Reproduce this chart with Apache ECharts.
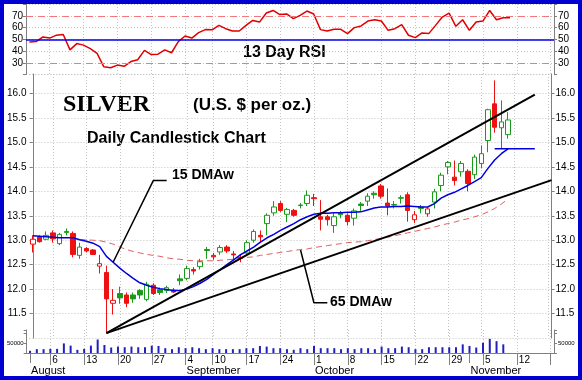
<!DOCTYPE html>
<html><head><meta charset="utf-8">
<script src="https://cdn.jsdelivr.net/npm/echarts@6/dist/echarts.min.js"></script>
<style>
html,body{margin:0;padding:0;background:#0000d0;}
#c{position:absolute;left:4px;top:4px;width:574px;height:372px;background:#fff;}
</style></head><body><div id="c"></div>
<script>
// Trading days (MM-DD), Aug 1 .. Nov 19
const dates = ['08-01','08-02','08-03','08-06','08-07','08-08','08-09','08-10','08-13','08-14','08-15','08-16','08-17','08-20','08-21','08-22','08-23','08-24','08-27','08-28','08-29','08-30','08-31',
'09-04','09-05','09-06','09-07','09-10','09-11','09-12','09-13','09-14','09-17','09-18','09-19','09-20','09-21','09-24','09-25','09-26','09-27','09-28',
'10-01','10-02','10-03','10-04','10-05','10-08','10-09','10-10','10-11','10-12','10-15','10-16','10-17','10-18','10-19','10-22','10-23','10-24','10-25','10-26','10-29','10-30','10-31',
'11-01','11-02','11-05','11-06','11-07','11-08','11-09','11-12','11-13','11-14','11-15','11-16','11-19'];
const weekStarts = ['08-06','08-13','08-20','08-27','09-04','09-10','09-17','09-24','10-01','10-08','10-15','10-22','10-29','11-05','11-12','11-19'];
const hiddenDayLabels = ['11-19'];
const monthStarts = ['08-01','09-04','10-01','11-01'];
const monthNames = ['August','September','October','November'];
// open, close, low, high
const ohlc = [
[12.92,13.02,12.75,13.10],[13.07,12.97,12.95,13.10],[13.02,13.10,13.00,13.18],[13.15,13.03,12.95,13.20],[12.93,13.12,12.90,13.15],
[13.18,13.16,13.10,13.24],[13.14,12.71,12.65,13.18],[12.69,12.86,12.62,12.95],[12.83,12.78,12.75,12.86],[12.80,12.71,12.70,12.82],
[12.47,12.52,12.32,12.70],[12.34,11.80,11.10,12.48],[11.71,11.77,11.48,12.00],[11.91,11.82,11.70,12.05],[11.88,11.71,11.63,11.93],
[11.88,11.80,11.72,11.93],[11.97,11.88,11.80,12.00],[11.79,12.10,11.75,12.15],[12.08,11.91,11.88,12.12],[11.99,11.93,11.88,12.03],
[11.97,12.03,11.92,12.07],[11.98,11.94,11.92,12.02],[12.21,12.17,12.08,12.30],[12.22,12.42,12.18,12.48],[12.40,12.37,12.30,12.45],
[12.46,12.56,12.40,12.62],[12.81,12.79,12.62,12.86],[12.69,12.66,12.60,12.74],[12.76,12.85,12.70,12.90],[12.86,12.78,12.74,12.90],
[12.72,12.70,12.60,12.78],[12.65,12.63,12.55,12.72],[12.74,12.95,12.70,13.00],[13.00,13.18,12.95,13.22],[13.10,13.07,12.95,13.20],
[13.34,13.51,13.10,13.55],[13.56,13.68,13.50,13.80],[13.75,13.61,13.58,13.80],[13.53,13.63,13.37,13.66],[13.61,13.51,13.48,13.64],
[13.72,13.71,13.65,13.76],[13.75,13.92,13.70,14.02],[13.87,13.85,13.70,13.95],[13.48,13.43,13.20,13.82],[13.48,13.42,13.30,13.52],
[13.30,13.48,13.15,13.55],[13.56,13.52,13.45,13.60],[13.51,13.38,13.30,13.55],[13.45,13.60,13.30,13.65],[13.74,13.71,13.60,13.78],
[13.80,13.90,13.70,13.96],[13.96,13.93,13.85,14.00],[14.11,13.90,13.85,14.15],[13.76,13.70,13.51,14.06],[13.73,13.72,13.65,13.80],
[13.87,13.86,13.75,13.92],[13.93,13.61,13.38,13.98],[13.42,13.52,13.35,13.60],[13.68,13.65,13.55,13.72],[13.54,13.64,13.48,13.68],
[13.78,13.99,13.65,14.05],[14.12,14.33,14.00,14.38],[14.50,14.59,14.35,14.62],[14.29,14.22,14.12,14.63],[14.40,14.57,14.30,14.62],
[14.41,14.16,14.00,14.45],[14.34,14.70,14.25,14.75],[14.57,14.77,14.47,14.94],[15.04,15.67,14.80,15.69],[15.79,15.31,15.20,16.27],
[15.30,15.42,14.87,15.86],[15.16,15.46,15.08,15.62]];
const prevClose = 13.10;
const volume = [11200,19400,19400,20900,20900,48500,37300,16000,20900,37300,67900,40300,27600,32300,29100,32300,29100,29100,37200,35600,
24300,19400,29100,24300,29100,24300,19400,24300,19400,19400,19400,19400,24300,24300,35600,32300,24300,24300,19400,16200,
24300,19400,35600,24300,24300,24300,19400,24300,19400,24300,24300,19400,32300,24300,24300,32300,29100,19400,19400,29100,
29100,29100,29100,29100,43600,35600,27500,51700,71100,59800,43600];
const rsi = [47.7,48,52,51,53.5,54,41,46.3,45,42,38,26.5,25.8,28,27,31,32.5,40.5,37,37.3,
41,38.5,48,52.8,51,55.6,58.2,58,61.8,59,57,57,61.8,66,64.6,72.3,74.5,71,71.5,67.5,
70.3,74,71.5,58.2,57,58.5,58.5,54.8,59.9,61.3,65.5,66.6,65.5,57.6,59,62.4,53.4,51.4,55.4,54.8,
61.8,68.9,72.3,61,66.6,57.6,64.6,65.5,74.5,66.6,68.3,68.3];
const dma15 = [13.09,13.08,13.07,13.06,13.05,13.05,13.05,13.01,12.98,12.94,12.87,12.67,12.55,12.43,12.32,12.22,12.13,12.08,12.04,12.01,
11.99,11.97,11.97,12.00,12.05,12.12,12.20,12.30,12.40,12.50,12.60,12.70,12.78,12.86,12.96,13.05,13.12,13.20,13.27,13.34,
13.42,13.48,13.53,13.55,13.55,13.56,13.56,13.57,13.57,13.58,13.62,13.66,13.68,13.68,13.69,13.69,13.70,13.69,13.68,13.68,
13.75,13.86,13.93,13.98,14.05,14.12,14.20,14.28,14.47,14.64,14.77,14.87];
const dma65 = [null,null,null,null,null,null,null,13.01,13.01,13.00,12.99,12.96,12.92,12.86,12.81,12.77,12.74,12.71,12.69,12.67,
12.64,12.62,12.61,12.59,12.58,12.58,12.58,12.58,12.59,12.60,12.61,12.63,12.65,12.66,12.69,12.71,12.73,12.75,12.77,12.79,
12.81,12.82,12.85,12.87,12.89,12.91,12.93,12.95,12.96,12.97,12.99,13.01,13.04,13.06,13.09,13.12,13.15,13.18,13.21,13.24,
13.27,13.31,13.34,13.37,13.41,13.44,13.48,13.52,13.58,13.65,13.74,13.84];
// hand-drawn annotation lines, in [day index, price]
const trendUpper = [[11,11.10],[75,15.98]];
const trendLower = [[11,11.10],[77.5,14.23]];
const support = [[69,14.87],[75,14.87]];
const pointer15 = [[20,14.22],[18,14.22],[12,12.55]];
const pointer65 = [[44,11.72],[42,11.72],[40,12.80]];

const UP = '#1a9a1a', DOWN = '#ee1111';
const candles = ohlc.map((d,i)=>{
  const pc = i===0 ? prevClose : ohlc[i-1][1];
  const col = d[1] >= pc ? UP : DOWN;
  const fill = d[1] > d[0] ? '#ffffff' : col;
  return {value:d, itemStyle:{color:fill,color0:fill,borderColor:col,borderColor0:col}};
});

const FONT = 'Liberation Sans, Arial, sans-serif';
const isWeek = (i)=>weekStarts.indexOf(dates[i])>=0;
const isMonth = (i)=>monthStarts.indexOf(dates[i])>=0;
const vsplit = {show:true, interval:isWeek, alignWithLabel:true, lineStyle:{color:'#c4c4c4',type:[1,2],width:1}};
const L=22, R=24;
const catAxis = (g)=>({type:'category',gridIndex:g,data:dates,boundaryGap:true,axisLine:{show:false},axisTick:{show:false},axisLabel:{show:false},splitLine:vsplit});
const yBase = (g,pos,extra)=>Object.assign({type:'value',gridIndex:g,position:pos,
  axisLine:{show:true,lineStyle:{color:'#808080'}},axisTick:{show:true,length:3,lineStyle:{color:'#808080'}},
  axisLabel:{color:'#000',fontFamily:FONT,fontSize:10,margin:3},splitLine:{show:false}},extra);

const chart = echarts.init(document.getElementById('c'),null,{renderer:'canvas'});
chart.setOption({
  animation:false,
  backgroundColor:'#ffffff',
  grid:[
    {left:L,right:R,top:0,height:70.5},
    {left:L,right:R,top:70,height:264},
    {left:L,right:R,top:326,height:24}
  ],
  xAxis:[
    catAxis(0), catAxis(1),
    {type:'category',gridIndex:2,data:dates,position:'bottom',
     axisLine:{show:true,lineStyle:{color:'#808080'}},
     axisTick:{show:true,alignWithLabel:true,interval:isWeek,length:12,lineStyle:{color:'#808080'}},
     axisLabel:{interval:isWeek,align:'left',margin:2,padding:[0,0,0,2],fontSize:10,fontFamily:FONT,color:'#000',
       formatter:(v)=>hiddenDayLabels.indexOf(v)>=0?'':String(parseInt(v.slice(3),10))},
     splitLine:vsplit},
    {type:'category',gridIndex:2,data:dates,position:'bottom',offset:12,
     axisLine:{show:true,lineStyle:{color:'#808080'}},
     axisTick:{show:true,alignWithLabel:true,interval:isMonth,length:10,lineStyle:{color:'#808080'}},
     axisLabel:{interval:isMonth,align:'left',margin:0,padding:[0,0,0,1],fontSize:11,fontFamily:FONT,color:'#000',
       formatter:(v)=>monthNames[monthStarts.indexOf(v)]||''},
     splitLine:{show:false}},
    {type:'value',gridIndex:1,min:-0.5,max:77.5,show:false}
  ],
  yAxis:[
    yBase(0,'left',{min:20,max:80,interval:10,splitLine:{show:true,lineStyle:{color:'#c4c4c4',type:[1,2]}},
      axisLabel:{color:'#000',fontFamily:FONT,fontSize:10,margin:3,formatter:(v)=>(v>=30&&v<=70)?String(v):''}}),
    yBase(0,'right',{min:20,max:80,interval:10,
      axisLabel:{color:'#000',fontFamily:FONT,fontSize:10,margin:4,formatter:(v)=>(v>=30&&v<=70)?String(v):''}}),
    yBase(1,'left',{min:11,max:16.4,interval:0.5,splitLine:{show:true,lineStyle:{color:'#c4c4c4',type:[1,2]}},
      axisLabel:{color:'#000',fontFamily:FONT,fontSize:10,margin:3,showMinLabel:false,showMaxLabel:false,formatter:(v)=>v.toFixed(1)}}),
    yBase(1,'right',{min:11,max:16.4,interval:0.5,
      axisLabel:{color:'#000',fontFamily:FONT,fontSize:10,margin:4,showMinLabel:false,showMaxLabel:false,formatter:(v)=>v.toFixed(1)}}),
    yBase(2,'left',{min:0,max:116000,interval:50000,
      axisLabel:{color:'#000',fontFamily:FONT,fontSize:6,margin:3,formatter:(v)=>v===50000?'50000':''}}),
    yBase(2,'right',{min:0,max:116000,interval:50000,
      axisLabel:{color:'#000',fontFamily:FONT,fontSize:6,margin:4,formatter:(v)=>v===50000?'50000':''}})
  ],
  series:[
    {type:'line',name:'RSI',xAxisIndex:0,yAxisIndex:0,data:rsi,symbol:'none',lineStyle:{color:'#e00000',width:1.5},z:4,
     markLine:{silent:true,symbol:'none',label:{show:false},animation:false,
       data:[{yAxis:70,lineStyle:{color:'#f07878',type:[7,5],width:1.2}},
             {yAxis:30,lineStyle:{color:'#f07878',type:[7,5],width:1.2}},
             {yAxis:50,lineStyle:{color:'#0000ee',type:'solid',width:1.5}}]}},
    {type:'bar',name:'Volume',xAxisIndex:2,yAxisIndex:4,data:volume,barWidth:2,itemStyle:{color:'#2020c0'}},
    {type:'line',name:'65 DMA',xAxisIndex:1,yAxisIndex:2,data:dma65,symbol:'none',lineStyle:{color:'#e06060',width:1,type:[6,4]},z:2},
    {type:'candlestick',name:'Silver',xAxisIndex:1,yAxisIndex:2,data:candles,barWidth:5,z:3},
    {type:'line',name:'15 DMA',xAxisIndex:1,yAxisIndex:2,data:dma15,symbol:'none',lineStyle:{color:'#0000e0',width:1.5},z:4},
    {type:'line',xAxisIndex:4,yAxisIndex:2,data:trendUpper,symbol:'none',lineStyle:{color:'#000',width:2},z:5},
    {type:'line',xAxisIndex:4,yAxisIndex:2,data:trendLower,symbol:'none',lineStyle:{color:'#000',width:2},z:5},
    {type:'line',xAxisIndex:4,yAxisIndex:2,data:support,symbol:'none',lineStyle:{color:'#0000e0',width:1.5},z:5},
    {type:'line',xAxisIndex:4,yAxisIndex:2,data:pointer15,symbol:'none',lineStyle:{color:'#000',width:1.5},z:5},
    {type:'line',xAxisIndex:4,yAxisIndex:2,data:pointer65,symbol:'none',lineStyle:{color:'#000',width:1.5},z:5}
  ],
  graphic:[
    {type:'text',left:59,top:89,style:{text:'SILVER',font:'bold 24px "Liberation Serif", "Times New Roman", serif',fill:'#000'}},
    {type:'text',left:189,top:93,style:{text:'(U.S. $ per oz.)',font:'bold 17px '+FONT,fill:'#000'}},
    {type:'text',left:83,top:127,style:{text:'Daily Candlestick Chart',font:'bold 16px '+FONT,fill:'#000'}},
    {type:'text',left:168,top:164,style:{text:'15 DMAw',font:'bold 14px '+FONT,fill:'#000'}},
    {type:'text',left:326,top:291,style:{text:'65 DMAw',font:'bold 14px '+FONT,fill:'#000'}},
    {type:'text',left:239,top:41,style:{text:'13 Day RSI',font:'bold 16px '+FONT,fill:'#000'}}
  ]
});
</script></body></html>
